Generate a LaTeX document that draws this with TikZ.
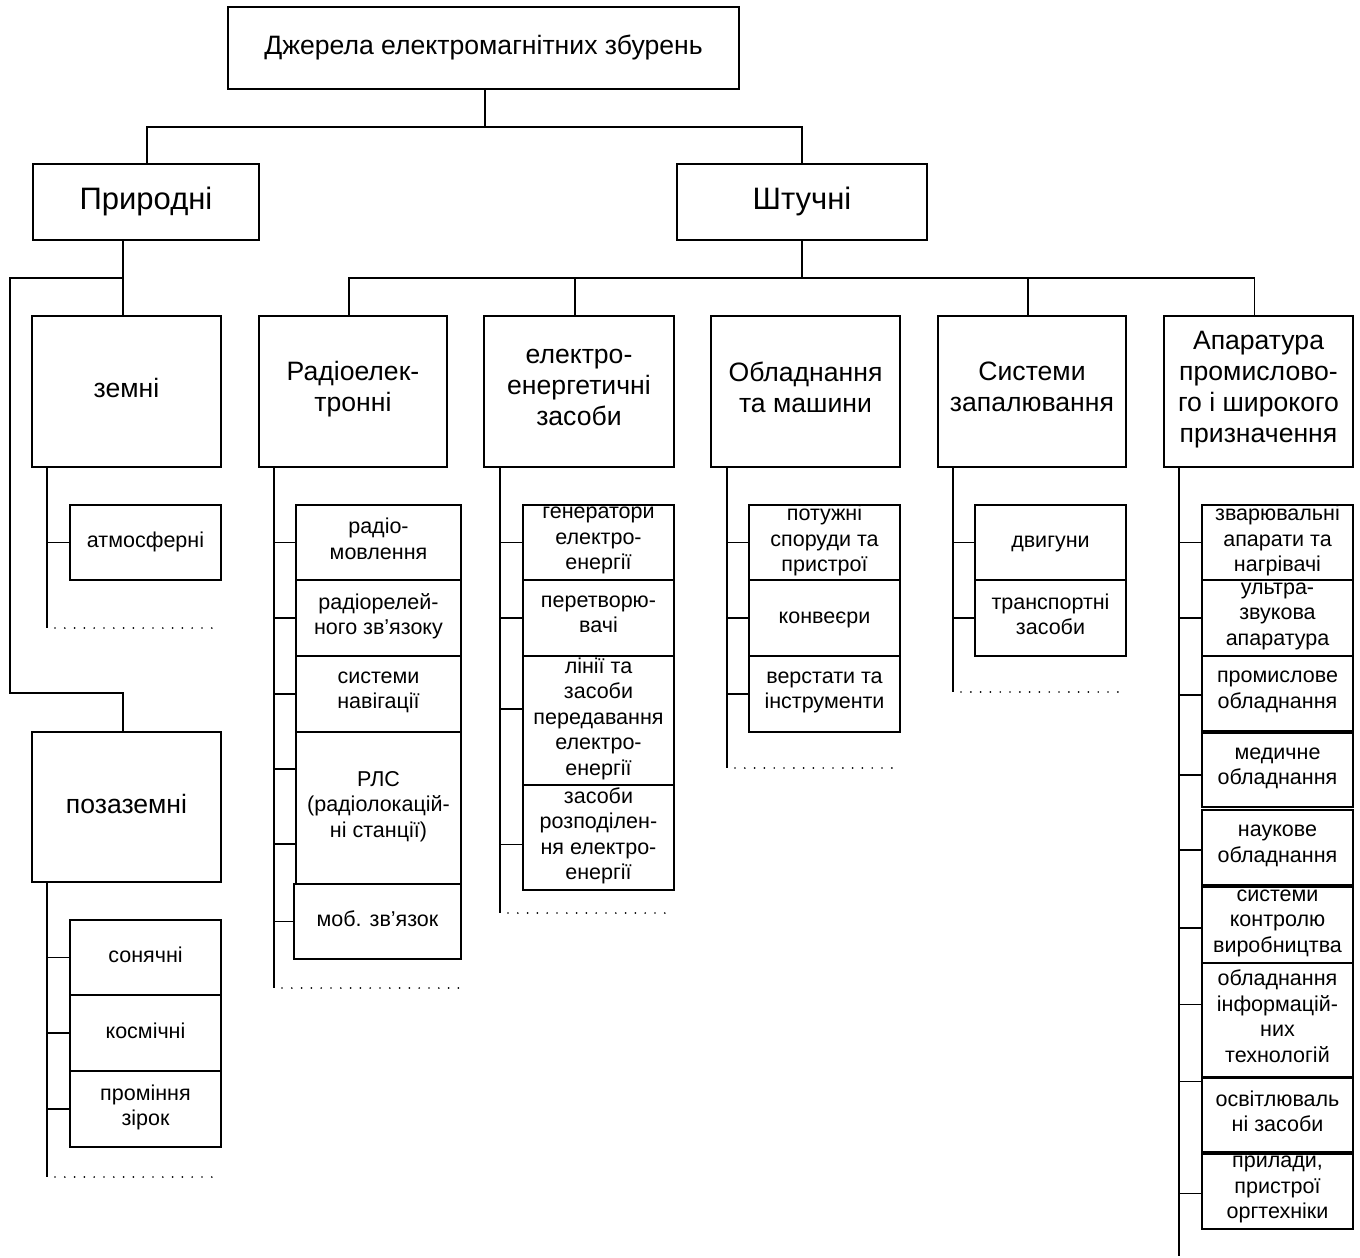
\documentclass[tikz,border=0pt]{standalone}
\usepackage{fontspec}
\setmainfont{Liberation Sans}
\begin{document}
\begin{tikzpicture}[x=1pt,y=-1pt,line width=1.8pt,
  boxframe/.style={draw,line width=1.8pt,inner sep=0pt,outer sep=0pt,anchor=north west},
  lbl/.style={inner sep=0pt,align=center,execute at begin node=\strut,execute at end node=\strut},
  txs/.style={lbl,font=\fontsize{21.5}{25.5}\selectfont},
  txm/.style={lbl,font=\fontsize{26.6}{31}\selectfont},
  txl/.style={lbl,font=\fontsize{31}{36}\selectfont},
  dotrow/.style={line width=1.9pt,dash pattern=on 0pt off 9.8pt,dash phase=-8pt,line cap=round}]
\useasboundingbox (0,0) rectangle (1360,1258);

% box: name, x1, y1, x2, y2, text style, text
\newcommand\mkbox[7]{%
  \node[boxframe,minimum width={#4pt-#2pt},minimum height={#5pt-#3pt}] (#1) at (#2,#3) {};
  \node[#6] (#1-t) at (#1.center) {#7};}
% horizontal twig from a spine to a box: spine, box, vertical offset
\newcommand\twig[3]{\draw ([yshift=#3pt]#2.west) -- ([yshift=#3pt]#2.west -| #1);}

% --- upper levels
\mkbox{top}{228}{7}{739}{89}{txm}{Джерела електромагнітних збурень}
\mkbox{nat}{33}{164}{259}{240}{txl}{Природні}
\mkbox{art}{677}{164}{927}{240}{txl}{Штучні}

\mkbox{terr}{32}{316}{221}{467}{txm}{земні}
\mkbox{extra}{32}{732}{221}{882}{txm}{позаземні}

\mkbox{rad}{259}{316}{447}{467}{txm}{Радіоелек-\\тронні}
\mkbox{ele}{484}{316}{674}{467}{txm}{електро-\\енергетичні\\засоби}
\mkbox{mach}{711}{316}{900}{467}{txm}{Обладнання\\та машини}
\mkbox{ign}{938}{316}{1126}{467}{txm}{Системи\\запалювання}
\mkbox{app}{1164}{316}{1353}{467}{txm}{Апаратура\\промислово-\\го і широкого\\призначення}

% --- natural sources
\mkbox{atm}{70}{505}{221}{580}{txs}{атмосферні}
\mkbox{sol}{70}{920}{221}{995}{txs}{сонячні}
\mkbox{cos}{70}{995}{221}{1071}{txs}{космічні}
\mkbox{star}{70}{1071}{221}{1147}{txs}{проміння\\зірок}

% --- radio-electronic
\mkbox{r1}{296}{505}{461}{580}{txs}{радіо-\\мовлення}
\mkbox{r2}{296}{580}{461}{656}{txs}{радіорелей-\\ного зв’язоку}
\mkbox{r3}{296}{656}{461}{732}{txs}{системи\\навігації}
\mkbox{r4}{296}{732}{461}{884}{txs}{РЛС\\(радіолокацій-\\ні станції)}
\mkbox{r5}{294}{884}{461}{959}{txs}{моб. зв’язок}

% --- power engineering
\mkbox{e1}{523}{505}{674}{580}{txs}{генератори\\електро-\\енергії}
\mkbox{e2}{523}{580}{674}{656}{txs}{перетворю-\\вачі}
\mkbox{e3}{523}{656}{674}{785}{txs}{лінії та\\засоби\\передавання\\електро-\\енергії}
\mkbox{e4}{523}{785}{674}{890}{txs}{засоби\\розподілен-\\ня електро-\\енергії}

% --- equipment and machines
\mkbox{m1}{749}{505}{900}{580}{txs}{потужні\\споруди та\\пристрої}
\mkbox{m2}{749}{580}{900}{656}{txs}{конвеєри}
\mkbox{m3}{749}{656}{900}{732}{txs}{верстати та\\інструменти}

% --- ignition systems
\mkbox{g1}{975}{505}{1126}{580}{txs}{двигуни}
\mkbox{g2}{975}{580}{1126}{656}{txs}{транспортні\\засоби}

% --- industrial and household apparatus
\mkbox{a1}{1202}{505}{1353}{580}{txs}{зварювальні\\апарати та\\нагрівачі}
\mkbox{a2}{1202}{580}{1353}{656}{txs}{ультра-\\звукова\\апаратура}
\mkbox{a3}{1202}{656}{1353}{731}{txs}{промислове\\обладнання}
\mkbox{a4}{1202}{733}{1353}{807}{txs}{медичне\\обладнання}
\mkbox{a5}{1202}{810}{1353}{885}{txs}{наукове\\обладнання}
\mkbox{a6}{1202}{887}{1353}{963}{txs}{системи\\контролю\\виробництва}
\mkbox{a7}{1202}{963}{1353}{1077}{txs}{обладнання\\інформацій-\\них\\технологій}
\mkbox{a8}{1202}{1078}{1353}{1152}{txs}{освітлюваль\\ні засоби}
\mkbox{a9}{1202}{1154}{1353}{1229}{txs}{прилади,\\пристрої\\оргтехніки}

% --- tree connectors
\draw ([xshift=1.5pt]top.south) -- ++(0,38) coordinate (b0);
\draw ([xshift=1pt]nat.north) |- (b0) -| (art.north);

\draw ([xshift=-23pt]nat.south) -- ++(0,38) coordinate (b1) -- ([xshift=-3.5pt]terr.north);
\draw (b1) -- ++(-113,0) -- ++(0,415) -| ([xshift=-3.5pt]extra.north);

\draw (art.south) -- ++(0,38) coordinate (b3);
\draw ([xshift=-4pt]rad.north) |- (b3) -| ([xshift=-4pt]app.north);
\draw ([xshift=-4pt]ele.north) -- ([xshift=-4pt]ele.north |- b3);
\draw ([xshift=-4pt]ign.north) -- ([xshift=-4pt]ign.north |- b3);

% --- spines with their open dotted ends
\draw ([xshift=15pt]terr.south west) coordinate (terr-s) -- ++(0,161) coordinate (terr-e);
\draw[dotrow] (terr-e) -- (terr-e -| atm.east);
\draw ([xshift=15pt]extra.south west) coordinate (extra-s) -- ++(0,295) coordinate (extra-e);
\draw[dotrow] (extra-e) -- (extra-e -| star.east);
\draw ([xshift=15pt]rad.south west) coordinate (rad-s) -- ++(0,521) coordinate (rad-e);
\draw[dotrow] (rad-e) -- (rad-e -| r5.east);
\draw ([xshift=16pt]ele.south west) coordinate (ele-s) -- ++(0,446) coordinate (ele-e);
\draw[dotrow] (ele-e) -- (ele-e -| e4.east);
\draw ([xshift=16pt]mach.south west) coordinate (mach-s) -- ++(0,301) coordinate (mach-e);
\draw[dotrow] (mach-e) -- (mach-e -| m3.east);
\draw ([xshift=15pt]ign.south west) coordinate (ign-s) -- ++(0,225) coordinate (ign-e);
\draw[dotrow] (ign-e) -- (ign-e -| g2.east);
\draw ([xshift=15pt]app.south west) coordinate (app-s) -- ++(0,789) coordinate (app-e);

% --- twigs
\twig{terr-s}{atm}{0}
\twig{extra-s}{sol}{0}
\twig{extra-s}{cos}{0}
\twig{extra-s}{star}{0}

\twig{rad-s}{r1}{0}
\twig{rad-s}{r2}{0}
\twig{rad-s}{r3}{0}
\twig{rad-s}{r4}{39}
\twig{rad-s}{r4}{-36}
\twig{rad-s}{r5}{0}

\twig{ele-s}{e1}{0}
\twig{ele-s}{e2}{0}
\twig{ele-s}{e3}{11.5}
\twig{ele-s}{e4}{-7}

\twig{mach-s}{m1}{0}
\twig{mach-s}{m2}{0}
\twig{mach-s}{m3}{0}

\twig{ign-s}{g1}{0}
\twig{ign-s}{g2}{0}

\twig{app-s}{a1}{0}
\twig{app-s}{a2}{0}
\twig{app-s}{a3}{-1.5}
\twig{app-s}{a4}{-5}
\twig{app-s}{a5}{-2.5}
\twig{app-s}{a6}{-3}
\twig{app-s}{a7}{15.5}
\twig{app-s}{a8}{33.5}
\twig{app-s}{a9}{-2}
\end{tikzpicture}
\end{document}
